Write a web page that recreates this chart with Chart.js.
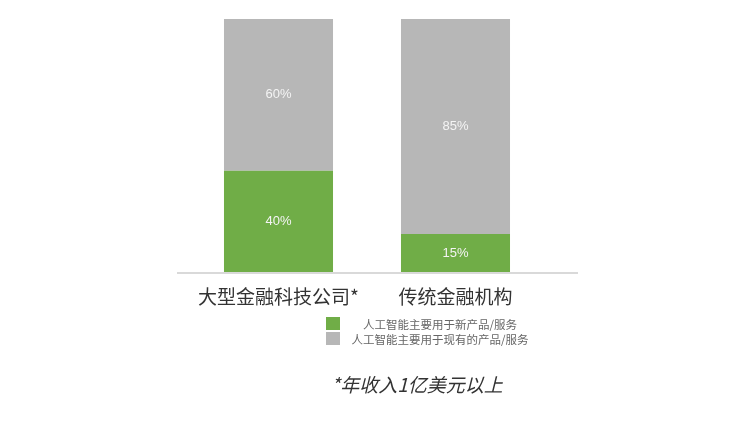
<!DOCTYPE html>
<html>
<head>
<meta charset="utf-8">
<script src="https://cdn.jsdelivr.net/npm/chart.js@4"></script>
<style>
  html, body { margin: 0; padding: 0; background: #fff; }
  #wrap { position: relative; width: 748px; height: 421px; }
  #legend { position: absolute; left: 326px; top: 316px; font-family: "Noto Sans CJK SC", sans-serif; font-size: 11.5px; color: #666; }
  .row { display: flex; align-items: center; height: 15px; }
  .box { width: 14px; height: 13px; }
  .txt { width: 200px; text-align: center; white-space: nowrap; }
  #note { position: absolute; left: 0; width: 834px; top: 370px; text-align: center; font-family: "Noto Sans CJK SC", serif; font-style: italic; font-size: 19px; color: #333; }
</style>
</head>
<body>
<div id="wrap">
  <canvas id="chart" width="748" height="421"></canvas>
  <div id="legend"></div>
  <div id="note">*年收入1亿美元以上</div>
</div>
<script>
// 数据
const categories = ["大型金融科技公司*", "传统金融机构"];
const seriesNames = ["人工智能主要用于新产品/服务", "人工智能主要用于现有的产品/服务"];
const newProducts = [40, 15];
const existingProducts = [60, 85];
const seriesColors = ["#70ad47", "#b7b7b7"];

// 柱内百分比标签
const valueLabels = {
  id: "valueLabels",
  afterDatasetsDraw(chart) {
    const ctx = chart.ctx;
    ctx.save();
    ctx.font = "13px 'Liberation Sans', Arial, sans-serif";
    ctx.fillStyle = "#f4f4f4";
    ctx.textAlign = "center";
    ctx.textBaseline = "middle";
    chart.data.datasets.forEach((ds, i) => {
      chart.getDatasetMeta(i).data.forEach((bar, j) => {
        const mid = (bar.y + bar.base) / 2;
        ctx.fillText(ds.data[j] + "%", bar.x, mid);
      });
    });
    ctx.restore();
  },
};

// 底部基线（比绘图区更宽）
const baseLine = {
  id: "baseLine",
  afterDraw(chart) {
    const { ctx, chartArea } = chart;
    ctx.save();
    ctx.strokeStyle = "#d9d9d9";
    ctx.lineWidth = 2;
    ctx.beginPath();
    ctx.moveTo(chartArea.left - 13, chartArea.bottom + 1);
    ctx.lineTo(chartArea.right + 34, chartArea.bottom + 1);
    ctx.stroke();
    ctx.restore();
  },
};

new Chart(document.getElementById("chart"), {
  type: "bar",
  data: {
    labels: categories,
    datasets: [
      { label: seriesNames[0], data: newProducts, backgroundColor: seriesColors[0] },
      { label: seriesNames[1], data: existingProducts, backgroundColor: seriesColors[1] },
    ],
  },
  options: {
    responsive: false,
    animation: false,
    layout: { padding: { left: 190, right: 204, top: 19, bottom: 109 } },
    datasets: { bar: { categoryPercentage: 1, barPercentage: 0.616 } },
    scales: {
      x: {
        stacked: true,
        grid: { display: false },
        border: { display: false },
        ticks: {
          padding: 5,
          color: "#333",
          font: { family: "'Noto Sans CJK SC', sans-serif", size: 19 },
        },
        afterFit(scale) { scale.height = 40; },
      },
      y: { stacked: true, display: false, min: 0, max: 100 },
    },
    plugins: { legend: { display: false }, tooltip: { enabled: false } },
  },
  plugins: [valueLabels, baseLine],
});

// 图例
const legend = document.getElementById("legend");
seriesNames.forEach((name, i) => {
  const row = document.createElement("div");
  row.className = "row";
  row.innerHTML = '<div class="box" style="background:' + seriesColors[i] + '"></div><div class="txt">' + name + "</div>";
  legend.appendChild(row);
});
</script>
</body>
</html>
